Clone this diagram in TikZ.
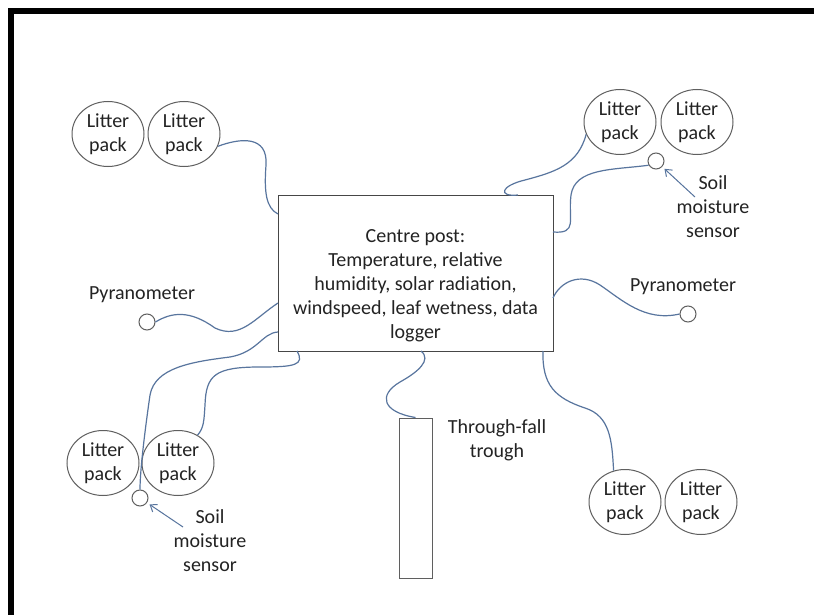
\documentclass[tikz,border=0pt]{standalone}
\usepackage{fontspec}
\setmainfont{Carlito}
\usetikzlibrary{shapes.geometric,arrows.meta}
\definecolor{wirec}{RGB}{88,117,158}
\definecolor{circc}{RGB}{95,95,95}
\definecolor{boxc}{RGB}{70,70,70}
\definecolor{txtc}{RGB}{35,35,35}
\begin{document}
\begin{tikzpicture}[x=1pt,y=-1pt,
  wire/.style={draw=wirec,line width=1.2pt},
  pack/.style={ellipse,draw=circc,line width=1pt,minimum width=72pt,minimum height=65pt,inner sep=-8pt,align=center,font=\fontsize{20}{24}\selectfont,text=txtc},
  sensor/.style={circle,draw=circc,line width=1pt,minimum size=16pt,inner sep=0pt},
  lbl/.style={align=center,font=\fontsize{20}{24}\selectfont,text=txtc,inner sep=0pt},
  pointer/.style={draw=wirec,line width=1pt,shorten >=3pt,-{Straight Barb[length=6pt,width=9pt]}}
]
\useasboundingbox (0,0) rectangle (814,615);
\fill[white] (0,0) rectangle (814,615);
% frame
\draw[line width=6pt] (11,615) -- (11,11.5) -- (820,11.5);

% centre post
\node[draw=boxc,line width=1pt,minimum width=275pt,minimum height=156pt,inner sep=0pt] (box) at (415.5,273) {};
\node[lbl] (ctext) at (415.5,286) {Centre post:\\Temperature, relative\\humidity, solar radiation,\\windspeed, leaf wetness, data\\logger};

% litter packs
\node[pack] (tl1) at (108,134) {Litter\\pack};
\node[pack] (tl2) at (184,134) {Litter\\pack};
\node[pack] (tr1) at (620,122) {Litter\\pack};
\node[pack] (tr2) at (697,122) {Litter\\pack};
\node[pack] (bl1) at (103,463) {Litter\\pack};
\node[pack] (bl2) at (178,463) {Litter\\pack};
\node[pack] (br1) at (625,502) {Litter\\pack};
\node[pack] (br2) at (701,502) {Litter\\pack};

% sensors
\node[sensor] (s1) at (656,161) {};
\node[sensor] (s2) at (140,498) {};
\node[sensor] (p1) at (147,322) {};
\node[sensor] (p2) at (688,314) {};

% trough
\node[draw=circc,line width=1pt,minimum width=33pt,minimum height=160pt,inner sep=0pt] (trough) at (415.5,498) {};

% labels
\node[lbl] (pl1) at (142,295) {Pyranometer};
\node[lbl] (pl2) at (683,287) {Pyranometer};
\node[lbl] (sl1) at (713,207) {Soil\\moisture\\sensor};
\node[lbl] (sl2) at (210,541) {Soil\\moisture\\sensor};
\node[lbl] (tt) at (497,440) {Through-fall\\trough};

% attachment points on the centre post
\coordinate (b1) at (278,214);
\coordinate (b2) at (518,195);
\coordinate (b3) at (553,232);
\coordinate (b4) at (278,303);
\coordinate (b5) at (553,298);
\coordinate (b6) at (278,332);
\coordinate (b7) at (297,351);
\coordinate (b8) at (421,351);
\coordinate (b9) at (543,351);

% wires
\draw[wire] (tl2.-20) .. controls (240,138) and (268,135) .. (266,165) .. controls (264,192) and (266,208) .. (b1);
\draw[wire] (tr1.200) .. controls (578,165) and (555,172) .. (525,180) .. controls (500,186) and (498,197) .. (b2);
\draw[wire] (s1.210) .. controls (612,170) and (575,168) .. (571,195) .. controls (568,220) and (578,234) .. (b3);
\draw[wire] (p1.east) .. controls (172,312) and (190,310) .. (215,328) .. controls (240,340) and (255,318) .. (b4);
\draw[wire] (b5) .. controls (560,282) and (580,272) .. (600,285) .. controls (622,300) and (645,322) .. (p2.west);
\draw[wire] (b6) .. controls (262,333) and (258,352) .. (230,357) .. controls (190,362) and (155,368) .. (150,395) .. controls (145,430) and (140,470) .. (s2.north);
\draw[wire] (b7) .. controls (305,365) and (295,367) .. (260,367) .. controls (215,367) and (206,375) .. (205,405) .. controls (204,420) and (204,428) .. (bl2.55);
\draw[wire] (b8) .. controls (432,360) and (418,372) .. (400,382) .. controls (378,395) and (382,412) .. (trough.north);
\draw[wire] (b9) .. controls (542,385) and (555,398) .. (585,408) .. controls (610,416) and (612,440) .. (br1.110);

% pointers
\coordinate (a1) at (695,197);
\coordinate (a2) at (183,527);
\draw[pointer] (a1) -- (s1);
\draw[pointer] (a2) -- (s2);
\end{tikzpicture}
\end{document}
